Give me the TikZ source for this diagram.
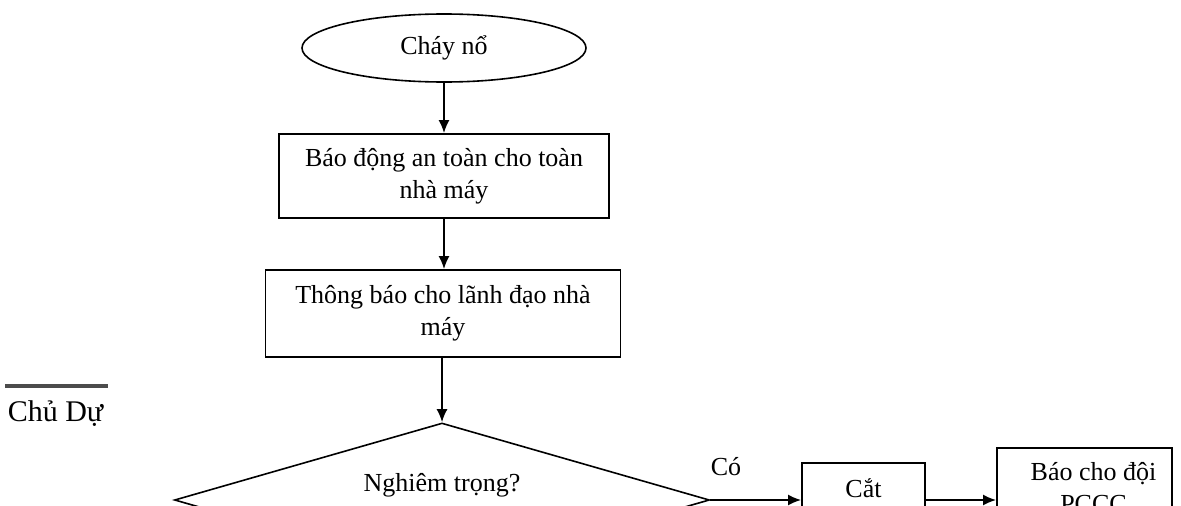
\documentclass[tikz,border=0pt]{standalone}
\usepackage{fontspec}
\setmainfont{Liberation Serif}
\usetikzlibrary{shapes.geometric,arrows.meta}
\begin{document}
\begin{tikzpicture}[x=1pt,y=-1pt,
  font=\fontsize{26}{32}\selectfont,
  line width=1.6pt,
  every node/.style={draw=none,inner sep=0pt},
  oval/.style={draw,ellipse,line width=1.6pt,minimum width=284pt,minimum height=68pt},
  stepbox/.style={draw,rectangle,line width=1.8pt,align=center},
  decision/.style={draw,diamond,line width=1.6pt,minimum width=535pt,minimum height=154pt},
  arr/.style={-{Latex[length=13pt,width=11pt]},line width=1.8pt}]
  \useasboundingbox (0,0) rectangle (1181,506);
  \clip (0,0) rectangle (1181,506);

  % main column
  \node[oval] (start) at (444,48) {Cháy nổ};
  \node[stepbox,minimum width=330pt,minimum height=84pt] (alarm) at (444,176)
    {Báo động an toàn cho toàn\\nhà máy};
  \node[stepbox,minimum width=355pt,minimum height=87pt] (notify) at (443,313.5)
    {Thông báo cho lãnh đạo nhà\\máy};
  \node[decision,label={[name=question,yshift=15pt]center:Nghiêm trọng?}] (severe) at (442,500) {};

  % branch on "yes"
  \node[stepbox,minimum width=123pt,minimum height=50pt] (cut) at (863.5,488) {Cắt};
  \node[stepbox,minimum width=175pt,minimum height=80pt] (fire) at (1084.5,488)
    {\hspace*{18pt}Báo cho đội\\\hspace*{18pt}PCCC};

  \draw[arr] (start.south) -- (start.south |- alarm.north);
  \draw[arr] (alarm.south) -- (alarm.south |- notify.north);
  \draw[arr] (severe.north |- notify.south) -- (severe.north);
  \draw[arr] (severe.east) -- (cut.west |- severe.east);
  \draw[arr] (cut.east |- severe.east) -- (fire.west |- severe.east);
  \node (yes) at (726,467) {Có};

  % footnote rule and fragment at the left margin
  \draw[line width=4pt,black!70] (5,386) coordinate (ruleL) -- (108,386) coordinate (ruleR);
  \node[anchor=west,font=\fontsize{30}{36}\selectfont] (owner) at (7,414) {Chủ Dự};
\end{tikzpicture}
\end{document}
